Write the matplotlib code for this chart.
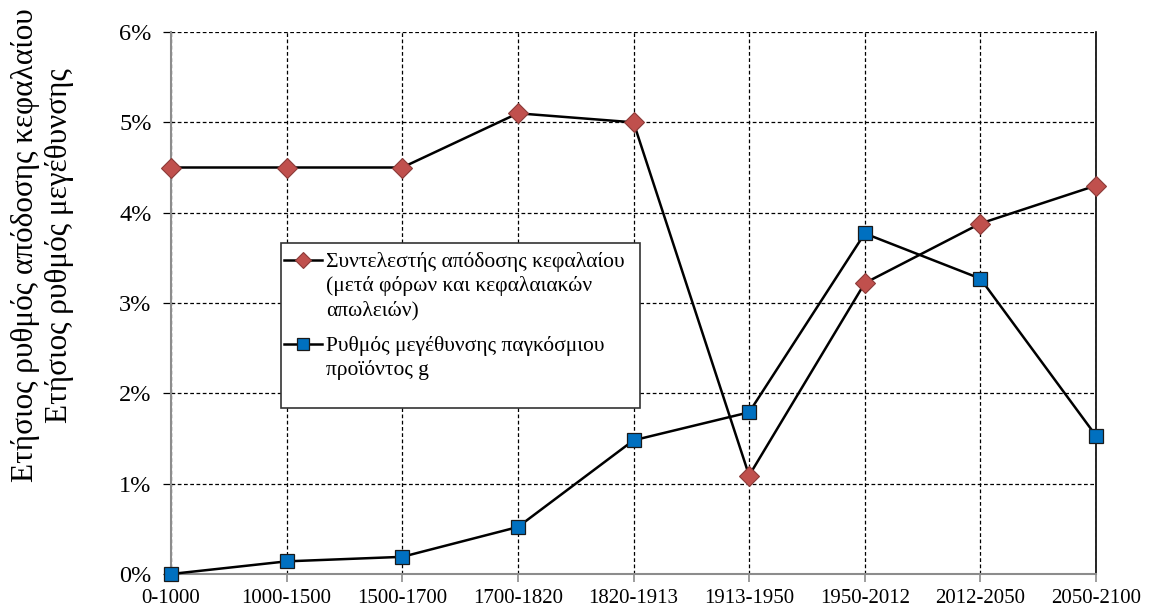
import matplotlib
matplotlib.use("Agg")
import matplotlib.pyplot as plt
from matplotlib.patches import Rectangle
from matplotlib.lines import Line2D
from matplotlib.ticker import FuncFormatter

periods = ["0-1000", "1000-1500", "1500-1700", "1700-1820", "1820-1913",
           "1913-1950", "1950-2012", "2012-2050", "2050-2100"]
return_rate = [4.5, 4.5, 4.5, 5.1, 5.0, 1.09, 3.22, 3.88, 4.30]
growth_rate = [0.0, 0.14, 0.19, 0.52, 1.48, 1.79, 3.77, 3.27, 1.53]
label_return = ["Συντελεστής απόδοσης κεφαλαίου", "(μετά φόρων και κεφαλαιακών", "απωλειών)"]
label_growth = ["Ρυθμός μεγέθυνσης παγκόσμιου", "προϊόντος g"]
ylabel1 = "Ετήσιος ρυθμός απόδοσης κεφαλαίου"
ylabel2 = "Ετήσιος ρυθμός μεγέθυνσης"

plt.rcParams['font.family'] = ['Liberation Serif', 'DejaVu Serif']

fig = plt.figure(figsize=(11.51, 6.11), dpi=100)
ax = fig.add_axes([171/1151, 1 - 574/611, (1096 - 171)/1151, (574 - 32)/611])

x = list(range(len(periods)))
l1, = ax.plot(x, return_rate, color='black', lw=1.8, marker='D', markersize=10,
              markerfacecolor='#C0504D', markeredgecolor='#8B3A38', markeredgewidth=0.8,
              zorder=5, clip_on=False)
l2, = ax.plot(x, growth_rate, color='black', lw=1.8, marker='s', markersize=10.5,
              markerfacecolor='#0070C0', markeredgecolor='#1a1a1a', markeredgewidth=0.9,
              zorder=6, clip_on=False)

ax.set_xlim(0, len(periods) - 1)
ax.set_ylim(0, 6)
ax.set_xticks(x)
ax.set_xticklabels(periods, fontsize=15)
ax.set_yticks([0, 1, 2, 3, 4, 5, 6])
ax.yaxis.set_major_formatter(FuncFormatter(lambda v, p: f"{int(v)}%"))
for t in ax.get_yticklabels():
    t.set_fontsize(17.5)

ax.grid(True, color='black', linestyle=(0, (3, 2)), linewidth=0.9)
ax.spines['top'].set_visible(False)
ax.spines['left'].set_color('#8c8c8c')
ax.spines['bottom'].set_color('#8c8c8c')
ax.spines['left'].set_linewidth(1.5)
ax.spines['bottom'].set_linewidth(1.5)
ax.spines['right'].set_color('black')
ax.spines['right'].set_linewidth(1.2)
ax.tick_params(axis='x', colors='#8c8c8c', length=6, width=1.2, labelcolor='black', pad=5)
ax.tick_params(axis='y', colors='black', length=6, width=0.9, labelcolor='black', pad=8)

# legend box
fig.patches.append(Rectangle((281/1151, 1 - 408/611), (640 - 281)/1151, (408 - 243)/611,
                             transform=fig.transFigure, facecolor='white',
                             edgecolor='#333333', linewidth=1.2, zorder=10))

blank = Line2D([], [], linestyle='none')
common = dict(loc='upper left', frameon=False, fontsize=15.5, handlelength=1.75,
              handletextpad=0.2, borderaxespad=0, labelspacing=0.2, borderpad=0,
              markerscale=0.85)
leg1 = fig.legend(handles=[l1] + [blank] * (len(label_return) - 1), labels=label_return,
                  bbox_to_anchor=(284/1151, 1 - 252/611), **common)
leg2 = fig.legend(handles=[l2] + [blank] * (len(label_growth) - 1), labels=label_growth,
                  bbox_to_anchor=(284/1151, 1 - 336/611), **common)
leg1.set_zorder(11)
leg2.set_zorder(11)

fig.text(26/1151, 1 - 245/611, ylabel1, rotation=90, ha='center', va='center', fontsize=22.5)
fig.text(60/1151, 1 - 246/611, ylabel2, rotation=90, ha='center', va='center', fontsize=22.5)

fig.savefig("out.png", dpi=100)
